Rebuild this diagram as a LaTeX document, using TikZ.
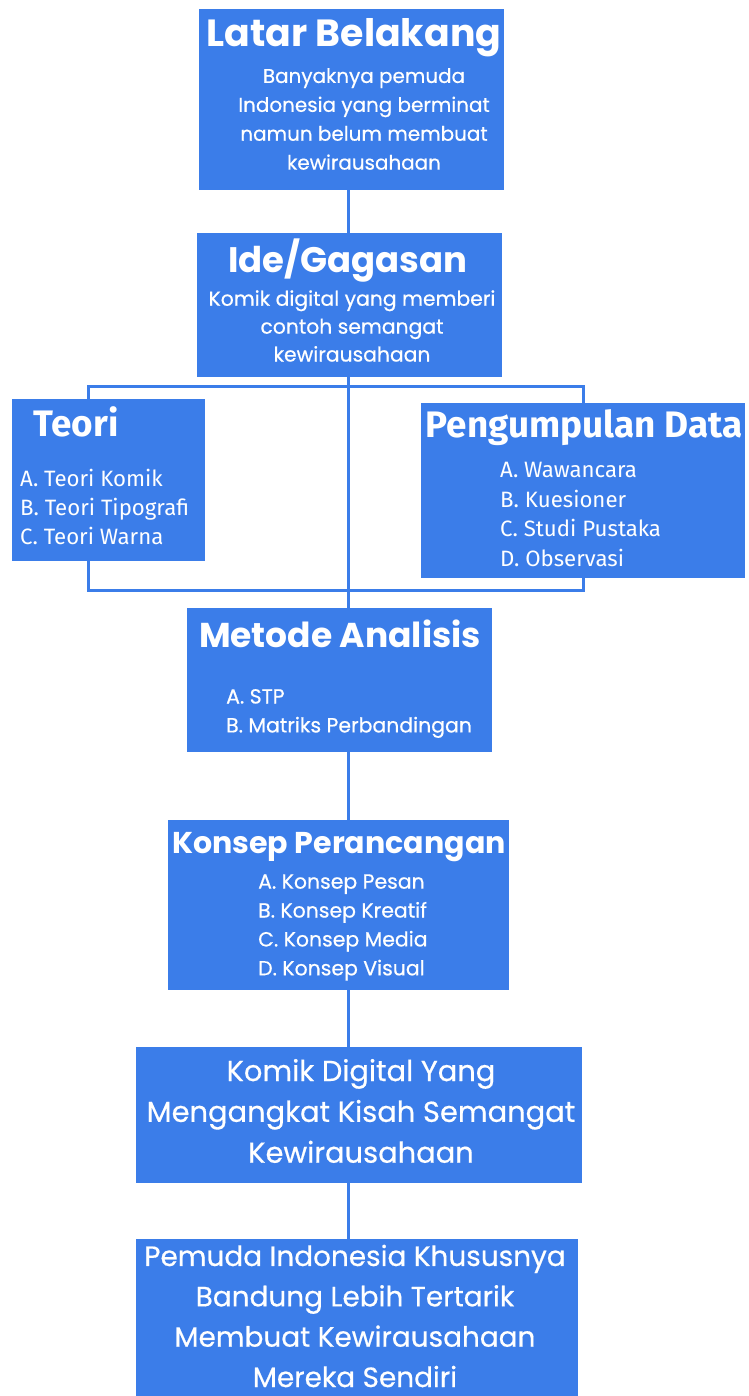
\documentclass[tikz,border=0pt]{standalone}
\usepackage{fontspec}
\setmainfont{Poppins}
\newfontfamily\medfont{Poppins}[FakeBold=0.5]
\newfontfamily\listfont{Fira Sans}
\usetikzlibrary{calc}
\definecolor{flowblue}{RGB}{59,125,233}
\tikzset{
  box/.style={fill=flowblue, anchor=north west, inner sep=0pt},
  link/.style={draw=flowblue, line width=3bp},
  head/.style={text=white, inner sep=0pt, font=\bfseries\fontsize{38}{44}\selectfont},
  body/.style={text=white, align=center, inner sep=0pt, font=\medfont\fontsize{20}{29}\selectfont},
  bigbody/.style={text=white, align=center, inner sep=0pt, font=\medfont\fontsize{29}{41}\selectfont},
  items/.style={text=white, align=left, anchor=west, inner sep=0pt, font=\medfont\fontsize{20.5}{29}\selectfont},
  listhead/.style={text=white, inner sep=0pt, font=\listfont\bfseries\fontsize{37}{40}\selectfont},
  listitems/.style={text=white, align=left, anchor=west, inner sep=0pt, font=\listfont\fontsize{22.3}{29.5}\selectfont},
}

\begin{document}
\begin{tikzpicture}[x=1bp, y=-1bp]
    \useasboundingbox (0,0) rectangle (748,1396);
    \coordinate (spine) at (348,0);
    \coordinate (brnw) at (88,386);
    \coordinate (brse) at (583,590);
    \draw[link] (brnw) rectangle (brse);

    \node[box, minimum width=305bp, minimum height=181bp] (latar) at (199,9) {};
    \node[box, minimum width=305bp, minimum height=144bp] (ide) at (197,233) {};
    \node[box, minimum width=193bp, minimum height=162bp] (teori) at (12,399) {};
    \node[box, minimum width=324bp, minimum height=175bp] (data) at (421,403) {};
    \node[box, minimum width=305bp, minimum height=144bp] (metode) at (187,608) {};
    \node[box, minimum width=341bp, minimum height=170bp] (konsep) at (168,820) {};
    \node[box, minimum width=446bp, minimum height=136bp] (komik) at (136,1047) {};
    \node[box, minimum width=442bp, minimum height=157bp] (pemuda) at (136,1239) {};

    \draw[link] (latar.south -| spine) -- (ide.north -| spine);
    \draw[link] (ide.south -| spine) -- (metode.north -| spine);
    \draw[link] (metode.south -| spine) -- (konsep.north -| spine);
    \draw[link] (konsep.south -| spine) -- (komik.north -| spine);
    \draw[link] (komik.south -| spine) -- (pemuda.north -| spine);

    \node[head] (latarhead) at (354,38) {Latar Belakang};
    \node[body] (latartext) at (364,119) {Banyaknya pemuda\\Indonesia yang berminat\\namun belum membuat\\kewirausahaan};
    \node[head, font=\bfseries\fontsize{35.6}{40}\selectfont] (idehead) at (348,261) {Ide/Gagasan};
    \node[body, font=\medfont\fontsize{20.4}{28}\selectfont] (idetext) at (352,326) {Komik digital yang memberi\\contoh semangat\\kewirausahaan};
    \node[listhead] (teorihead) at (76,422) {Teori};
    \node[listitems] (teorilist) at (20,507) {A. Teori Komik\\B. Teori Tipografi\\C. Teori Warna};
    \node[listhead] (datahead) at (584,428) {Pengumpulan Data};
    \node[listitems] (datalist) at (500,514.5) {A. Wawancara\\B. Kuesioner\\C. Studi Pustaka\\D. Observasi};
    \node[head, font=\bfseries\fontsize{34.6}{38}\selectfont] (metodehead) at (340,634) {Metode Analisis};
    \node[items] (metodelist) at (226,713.5) {A. STP\\B. Matriks Perbandingan};
    \node[head, font=\bfseries\fontsize{30.2}{36}\selectfont] (konsephead) at (339,847) {Konsep Perancangan};
    \node[items] (konseplist) at (258,927.5) {A. Konsep Pesan\\B. Konsep Kreatif\\C. Konsep Media\\D. Konsep Visual};
    \node[bigbody] (komiktext) at (361,1111) {Komik Digital Yang\\Mengangkat Kisah Semangat\\Kewirausahaan};
    \node[bigbody, font=\medfont\fontsize{28}{40.5}\selectfont] (pemudatext) at (355,1316) {Pemuda Indonesia Khususnya\\Bandung Lebih Tertarik\\Membuat Kewirausahaan\\Mereka Sendiri};
\end{tikzpicture}
\end{document}
